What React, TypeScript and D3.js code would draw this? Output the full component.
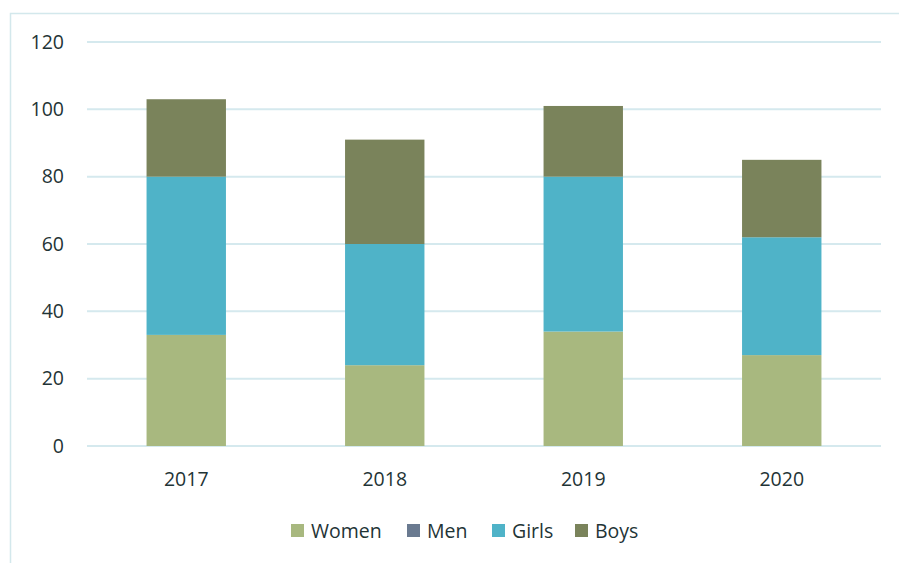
import React from "react";
import * as d3 from "d3";

const years = ["2017", "2018", "2019", "2020"];
const seriesNames = ["Women", "Men", "Girls", "Boys"];
const women = [33, 24, 34, 27];
const men = [0, 0, 0, 0];
const girls = [47, 36, 46, 35];
const boys = [23, 31, 21, 23];
const yTicks = [0, 20, 40, 60, 80, 100, 120];
const colors = ["#a8b87f", "#6a7a90", "#4fb3c8", "#7a835b"];

const W = 899;
const H = 563;
const FONT = "'Open Sans', 'Liberation Sans', sans-serif";
const TEXT = "#1f3436";

export default function App() {
  const rows = years.map((y, i) => ({
    year: y,
    Women: women[i],
    Men: men[i],
    Girls: girls[i],
    Boys: boys[i],
  }));
  const stack = d3.stack<any>().keys(seriesNames)(rows);

  const x = d3.scaleBand().domain(years).range([87, 881]).paddingInner(0.6).paddingOuter(0.3);
  const y = d3.scaleLinear().domain([0, 120]).range([446, 42]);

  const legendX = [291, 407, 492, 575];

  return (
    <svg width={W} height={H} style={{ position: "absolute", left: 0, top: 0 }}>
      <rect x={0} y={0} width={W} height={H} fill="#fff" />
      <path d={`M10.5,${H} V13.5 H${W}`} fill="none" stroke="#d3e8ec" strokeWidth={1.5} />
      {yTicks.map((t) => (
        <g key={t}>
          <line x1={87} x2={881} y1={y(t)} y2={y(t)} stroke="#d5e9ee" strokeWidth={2} />
          <text x={64} y={y(t)} dy="0.35em" textAnchor="end" fontFamily={FONT} fontSize={19.5} fill={TEXT}>
            {t}
          </text>
        </g>
      ))}
      {stack.map((s, si) => (
        <g key={s.key} fill={colors[si]}>
          {s.map((d, i) => {
            const h = y(d[0]) - y(d[1]);
            if (h <= 0) return null;
            return <rect key={i} x={x(years[i])} width={x.bandwidth()} y={y(d[1])} height={h} />;
          })}
        </g>
      ))}
      {years.map((yr) => (
        <text key={yr} x={(x(yr) as number) + x.bandwidth() / 2} y={486} textAnchor="middle" fontFamily={FONT} fontSize={19.5} fill={TEXT}>
          {yr}
        </text>
      ))}
      {seriesNames.map((n, i) => (
        <g key={n}>
          <rect x={legendX[i]} y={524} width={13} height={13} fill={colors[i]} />
          <text x={legendX[i] + 20} y={538} fontFamily={FONT} fontSize={19.5} fill={TEXT}>
            {n}
          </text>
        </g>
      ))}
    </svg>
  );
}
